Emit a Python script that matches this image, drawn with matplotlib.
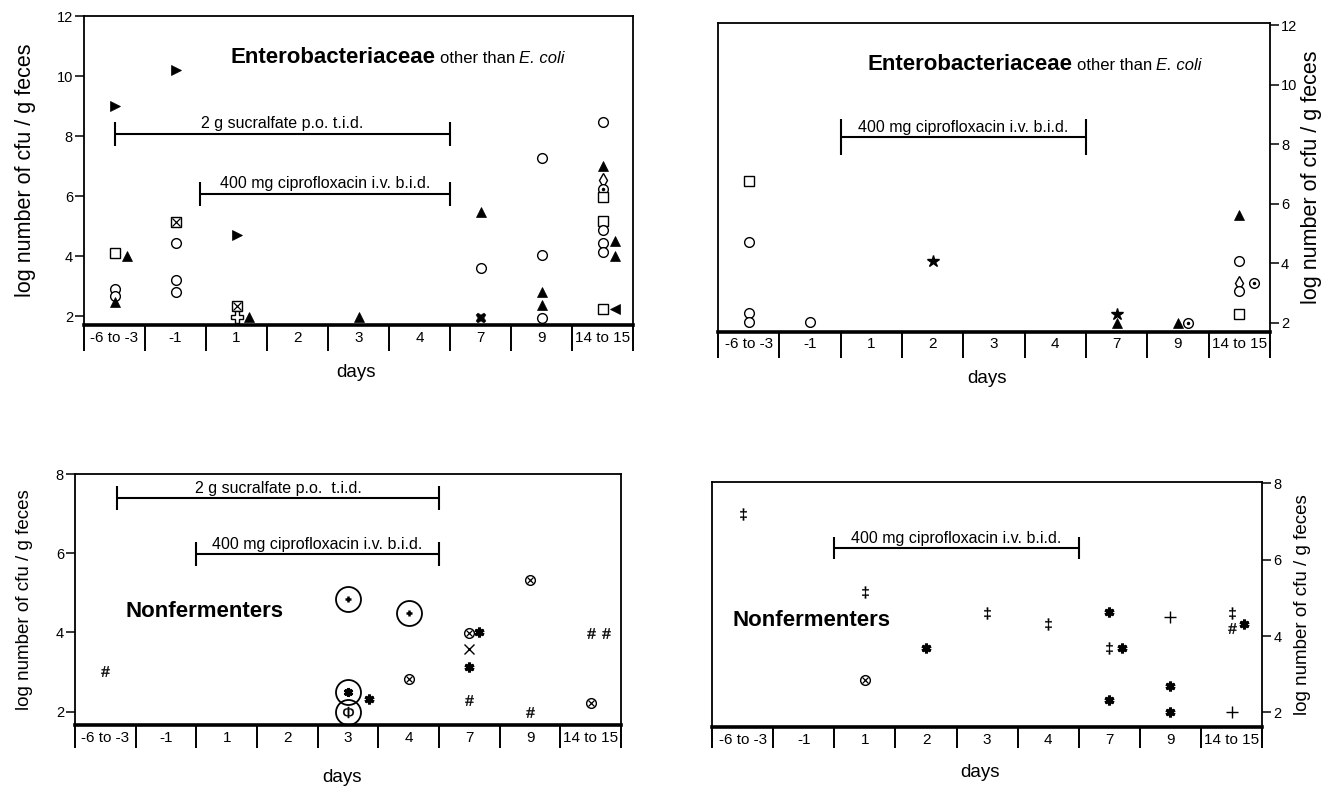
import matplotlib
matplotlib.use('Agg')
import matplotlib.pyplot as plt
import numpy as np

plt.rcParams['font.family'] = ['Liberation Sans', 'DejaVu Sans']
plt.rcParams['mathtext.fontset'] = 'custom'
plt.rcParams['mathtext.rm'] = 'Liberation Sans'
plt.rcParams['mathtext.it'] = 'Liberation Sans:italic'

days = ['-6 to -3', '-1', '1', '2', '3', '4', '7', '9', '14 to 15']

# Enterobacteriaceae, sucralfate + ciprofloxacin (top left)
ent_a_day = ['-6 to -3', '-6 to -3', '-6 to -3', '-6 to -3', '-6 to -3', '-6 to -3',
             '-1', '-1', '-1', '-1', '-1',
             '1', '1', '1', '1', '3',
             '7', '7', '7',
             '9', '9', '9', '9', '9',
             '14 to 15', '14 to 15', '14 to 15', '14 to 15', '14 to 15', '14 to 15',
             '14 to 15', '14 to 15', '14 to 15', '14 to 15', '14 to 15', '14 to 15', '14 to 15']
ent_a_log = [9.0, 4.1, 4.0, 2.9, 2.67, 2.48,
             10.2, 5.15, 4.45, 3.2, 2.81,
             4.7, 2.32, 1.98, 1.96, 1.96,
             5.47, 3.59, 1.93,
             7.27, 4.02, 2.79, 2.37, 1.93,
             8.46, 6.99, 6.54, 6.25, 5.97, 5.18, 4.88, 4.42, 4.12, 4.5, 4.0, 2.22, 2.22]
ent_a_kind = ['tri_r', 'sq', 'tri', 'circ', 'circ', 'tri',
              'tri_r', 'sqx', 'circ', 'circ', 'circ',
              'tri_r', 'sqx', 'plus_o', 'tri', 'tri',
              'tri', 'circ', 'xbold',
              'circ', 'circ', 'tri', 'tri', 'circ',
              'circ', 'tri', 'diam', 'circdot', 'sq', 'sq', 'circ', 'circ', 'circ', 'tri', 'tri', 'sq', 'tri_l']
ent_a_side = [0, 0, 1, 0, 0, 0,
              0, 0, 0, 0, 0,
              0, 0, 0, 1, 0,
              0, 0, 0,
              0, 0, 0, 0, 0,
              0, 0, 0, 0, 0, 0, 0, 0, 0, 1, 1, 0, 1]

# Enterobacteriaceae, ciprofloxacin only (top right)
ent_b_day = ['-6 to -3', '-6 to -3', '-6 to -3', '-6 to -3', '-1', '2', '7', '7', '9', '9',
             '14 to 15', '14 to 15', '14 to 15', '14 to 15', '14 to 15', '14 to 15']
ent_b_log = [6.76, 4.7, 2.34, 2.03, 2.03, 4.08, 2.31, 1.98, 1.98, 2.0,
             5.62, 4.07, 3.32, 3.06, 3.34, 2.31]
ent_b_kind = ['sq', 'circ', 'circ', 'circ', 'circ', 'star', 'star', 'tri', 'tri', 'circdot',
              'tri', 'circ', 'diam', 'circ', 'circdot', 'sq']
ent_b_side = [0, 0, 0, 0, 0, 0, 0, 0, 0, 0.8, 0, 0, 0, 0, 1.2, 0]

# Nonfermenters, sucralfate + ciprofloxacin (bottom left)
non_a_day = ['-6 to -3', '3', '3', '3', '3', '4', '4', '7', '7', '7', '7', '7',
             '9', '9', '14 to 15', '14 to 15', '14 to 15']
non_a_log = [3.03, 4.84, 2.49, 1.98, 2.31, 4.5, 2.82, 3.99, 4.02, 3.59, 3.13, 2.29,
             5.32, 1.98, 3.99, 3.99, 2.23]
non_a_kind = ['hash', 'ring_cross', 'ring_ast', 'ring_phi', 'ast', 'ring_cross', 'circx',
              'circx', 'ast', 'x', 'ast', 'hash', 'circx', 'hash', 'hash', 'hash', 'circx']
non_a_side = [0, 0, 0, 0, 1.7, 0, 0, 0, 0.8, 0, 0, 0, 0, 0, 0, 1.3, 0]

# Nonfermenters, ciprofloxacin only (bottom right)
non_b_day = ['-6 to -3', '1', '1', '2', '3', '4', '7', '7', '7', '7', '9', '9', '9',
             '14 to 15', '14 to 15', '14 to 15', '14 to 15']
non_b_log = [7.19, 5.14, 2.85, 3.68, 4.59, 4.31, 4.62, 3.68, 3.68, 2.32, 4.51, 2.7, 2.02,
             4.59, 4.2, 4.31, 2.0]
non_b_kind = ['ddag', 'ddag', 'circx', 'ast', 'ddag', 'ddag', 'ast', 'ddag', 'ast', 'ast',
              'plus', 'ast', 'ast', 'ddag', 'hash', 'ast', 'plus']
non_b_side = [0, 0, 0, 0, 0, 0, 0, 0, 1, 0, 0, 0, 0, 0, 0, 1, 0]

# treatment periods in day-column units and the level of the bar
sucralfate_a = [0.0, 5.5, 8.07]
cipro_a = [1.4, 5.5, 6.06]
cipro_b = [1.5, 5.5, 8.25]
sucralfate_c = [0.2, 5.5, 7.40]
cipro_c = [1.5, 5.5, 5.97]
cipro_d = [1.5, 5.5, 6.30]

ring = dict(marker='o', ms=18, mfc='none', mec='k', mew=1.3)
circ = dict(marker='o', ms=7, mfc='white', mec='k', mew=1.0)
square = dict(marker='s', ms=6.5, mfc='white', mec='k', mew=1.0)
STYLE = {
    'circ': [circ],
    'sq': [square],
    'tri': [dict(marker='^', ms=7, mfc='k', mec='k', mew=0.5)],
    'tri_r': [dict(marker='>', ms=7, mfc='k', mec='k', mew=0.5)],
    'tri_l': [dict(marker='<', ms=7, mfc='k', mec='k', mew=0.5)],
    'sqx': [square, dict(marker='x', ms=6, mec='k', mew=0.9)],
    'plus_o': [dict(marker='P', ms=8, mfc='white', mec='k', mew=1.0)],
    'xbold': [dict(marker='X', ms=7.5, mfc='k', mec='k', mew=0.3)],
    'diam': [dict(marker='d', ms=7, mfc='white', mec='k', mew=1.0)],
    'circdot': [circ, dict(marker='.', ms=3, mfc='k', mec='k')],
    'star': [dict(marker='*', ms=9, mfc='k', mec='k')],
    'hash': [dict(marker=r'$\#$', ms=7.5, mfc='k', mec='k', mew=0.3)],
    'ddag': [dict(marker=r'$\ddag$', ms=8.5, mfc='k', mec='k', mew=0.3)],
    'circx': [circ, dict(marker='x', ms=4.5, mec='k', mew=0.9)],
    'ast': [dict(marker=(6, 2, 0), ms=7, mec='k', mew=2.2)],
    'x': [dict(marker='x', ms=6.5, mec='k', mew=1.0)],
    'plus': [dict(marker='+', ms=8, mec='k', mew=1.0)],
    'ring_cross': [ring, dict(marker='+', ms=5, mec='k', mew=1.8)],
    'ring_ast': [ring, dict(marker=(6, 2, 0), ms=6.5, mec='k', mew=2.2)],
    'ring_phi': [ring, dict(marker=r'$\Phi$', ms=8, mfc='k', mec='k', mew=0.2)],
}

fig = plt.figure(figsize=(13.23, 7.86), dpi=100, facecolor='white')
renderer = fig.canvas.get_renderer()


def setup(ax, ylim, yticks, sep_len, right=False, label_size=13.5):
    ax.set_xlim(-0.5, 8.5)
    ax.set_ylim(*ylim)
    ax.set_yticks(yticks)
    ax.set_xticks(np.arange(-0.5, 9, 1))
    ax.set_xticks(np.arange(9), labels=days, minor=True)
    ax.tick_params(axis='x', which='major', direction='out', length=sep_len, width=1.4,
                   labelbottom=False, color='k')
    ax.tick_params(axis='x', which='minor', length=0, pad=4, labelsize=11)
    ax.tick_params(axis='y', direction='out', length=6.5, width=1.1, labelsize=10.5, pad=1.5)
    for s in ['left', 'right', 'top']:
        ax.spines[s].set_linewidth(1.3)
    ax.spines['bottom'].set_linewidth(2.6)
    if right:
        ax.yaxis.tick_right()
        ax.yaxis.set_label_position('right')
    ax.set_ylabel('log number of cfu / g feces', fontsize=label_size)
    ax.set_xlabel('days', fontsize=13.5)
    ax.yaxis.label.set_va('center')
    ax.xaxis.label.set_va('center')


def draw_points(ax, day, log, kind, side):
    for d, y, k, s in zip(day, log, kind, side):
        x = days.index(d) + 0.2 * s
        for layer in STYLE[k]:
            ax.plot([x], [y], ls='none', color='k', clip_on=False, zorder=3, **layer)


def treatment(ax, span, label, cap, gap=3.6):
    x0, x1, y = span
    ax.plot([x0, x1], [y, y], color='k', lw=1.5, solid_capstyle='butt')
    ax.plot([x0, x1], [y, y], ls='none', marker='|', ms=cap, mew=1.5, color='k')
    ax.annotate(label, xy=((x0 + x1) / 2, y), xytext=(0, gap), textcoords='offset points',
                ha='center', va='baseline', fontsize=11.5)


def next_x(ax, t, gap_px):
    bb = t.get_window_extent(renderer)
    return ax.transAxes.inverted().transform((bb.x1 + gap_px, bb.y0))[0]


def ent_title(ax, x, y):
    t1 = ax.text(x, y, 'Enterobacteriaceae', transform=ax.transAxes, fontsize=16,
                 fontweight='bold', va='baseline')
    t2 = ax.text(next_x(ax, t1, 4.5), y, 'other than', transform=ax.transAxes,
                 fontsize=12, va='baseline')
    ax.text(next_x(ax, t2, 4.0), y, 'E. coli', transform=ax.transAxes,
            fontsize=12, style='italic', va='baseline')


# top left
ax1 = fig.add_axes([0.0635, 0.5865, 0.415, 0.3931])
setup(ax1, (1.70, 12.0), [2, 4, 6, 8, 10, 12], 19, label_size=15.5)
ax1.yaxis.set_label_coords(-0.107, 0.5)
ax1.xaxis.set_label_coords(0.495, -0.155)
draw_points(ax1, ent_a_day, ent_a_log, ent_a_kind, ent_a_side)
treatment(ax1, sucralfate_a, '2 g sucralfate p.o. t.i.d.', 17, gap=4.3)
treatment(ax1, cipro_a, '400 mg ciprofloxacin i.v. b.i.d.', 17, gap=4.3)
ent_title(ax1, 0.267, 0.847)

# top right
ax2 = fig.add_axes([0.5427, 0.578, 0.4172, 0.3931])
setup(ax2, (1.70, 12.08), [2, 4, 6, 8, 10, 12], 18.7, right=True, label_size=15.5)
ax2.yaxis.set_label_coords(1.076, 0.5)
ax2.xaxis.set_label_coords(0.487, -0.150)
draw_points(ax2, ent_b_day, ent_b_log, ent_b_kind, ent_b_side)
treatment(ax2, cipro_b, '400 mg ciprofloxacin i.v. b.i.d.', 26)
ent_title(ax2, 0.271, 0.847)

# bottom left
ax3 = fig.add_axes([0.0567, 0.0776, 0.4127, 0.3193])
setup(ax3, (1.664, 8.0), [2, 4, 6, 8], 16.5)
ax3.yaxis.set_label_coords(-0.093, 0.5)
ax3.xaxis.set_label_coords(0.489, -0.211)
draw_points(ax3, non_a_day, non_a_log, non_a_kind, non_a_side)
treatment(ax3, sucralfate_c, '2 g sucralfate p.o.  t.i.d.', 17)
treatment(ax3, cipro_c, '400 mg ciprofloxacin i.v. b.i.d.', 17)
ax3.text(0.093, 0.431, 'Nonfermenters', transform=ax3.transAxes, fontsize=16,
         fontweight='bold', va='baseline')

# bottom right
ax4 = fig.add_axes([0.5383, 0.0751, 0.4157, 0.3121])
setup(ax4, (1.62, 8.04), [2, 4, 6, 8], 15, right=True)
ax4.yaxis.set_label_coords(1.074, 0.5)
ax4.xaxis.set_label_coords(0.487, -0.1875)
draw_points(ax4, non_b_day, non_b_log, non_b_kind, non_b_side)
treatment(ax4, cipro_d, '400 mg ciprofloxacin i.v. b.i.d.', 16)
ax4.text(0.037, 0.413, 'Nonfermenters', transform=ax4.transAxes, fontsize=16,
         fontweight='bold', va='baseline')

fig.savefig('out.png', dpi=100, facecolor='white')
